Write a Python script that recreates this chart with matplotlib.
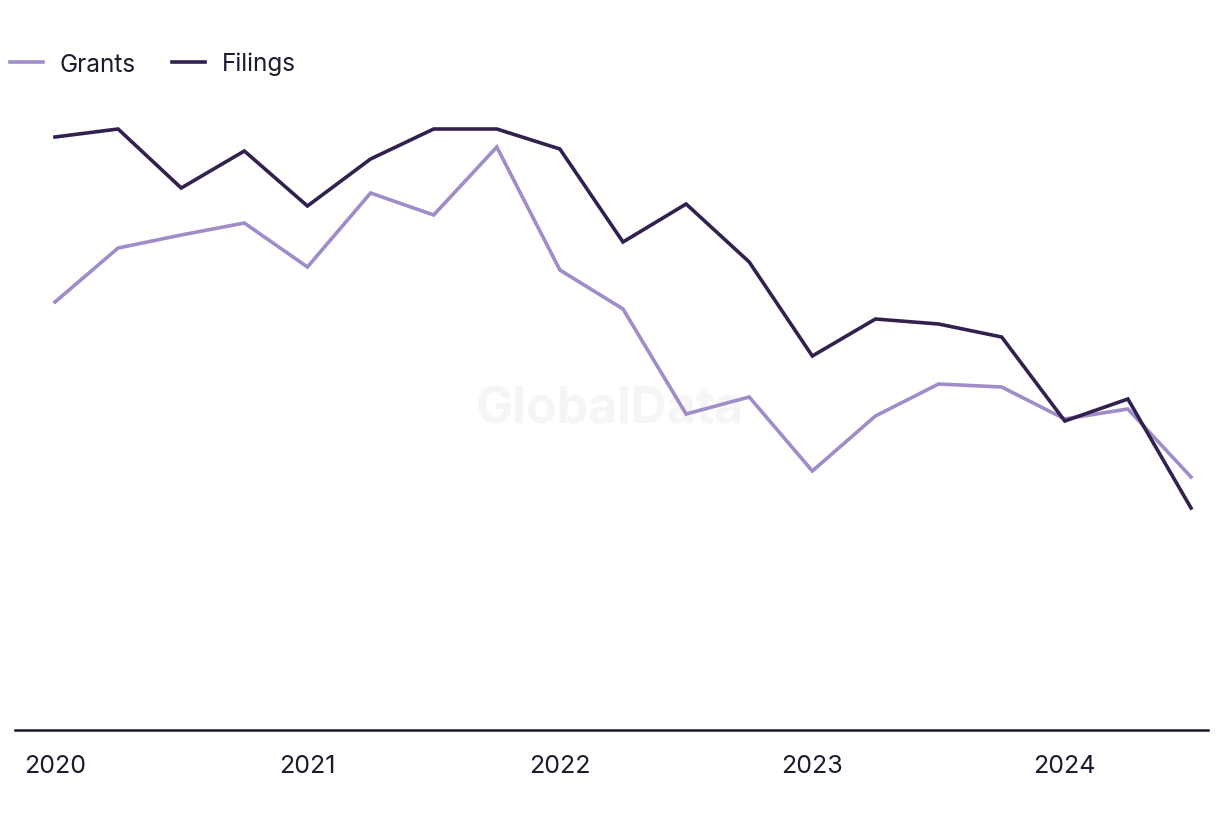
import matplotlib.pyplot as plt
import numpy as np

# quarterly values, 2020 Q1 .. 2024 Q3 (relative scale)
quarters = np.arange(19)
grants = [428, 482, 495, 507, 463, 537, 515, 583, 460, 421, 316, 333, 259, 314, 346, 343, 311, 321, 253]
filings = [593, 601, 542, 579, 524, 571, 601, 601, 581, 488, 526, 468, 374, 411, 406, 393, 309, 331, 222]
tick_pos = [0, 4, 8, 12, 16]
tick_labels = ["2020", "2021", "2022", "2023", "2024"]

plt.rcParams['font.family'] = ['Inter', 'DejaVu Sans']
text_col = "#1b1a2e"

fig = plt.figure(figsize=(12.2, 8.2), dpi=100)
ax = fig.add_axes([15 / 1220, 89 / 820, 1193 / 1220, 640 / 820])

ax.plot(quarters, grants, color="#a08cc8", lw=2.6, label="Grants", solid_joinstyle="miter")
ax.plot(quarters, filings, color="#32214f", lw=2.6, label="Filings", solid_joinstyle="miter")

step = (1191 - 55) / 18
ax.set_xlim((15 - 55) / step, (1208 - 55) / step)
ax.set_ylim(0, 640)

for s in ["top", "right", "left"]:
    ax.spines[s].set_visible(False)
ax.spines["bottom"].set_color(text_col)
ax.spines["bottom"].set_linewidth(1.8)
ax.set_yticks([])
ax.set_xticks(tick_pos)
ax.set_xticklabels(tick_labels, fontsize=18, color=text_col)
ax.tick_params(axis="x", length=0, pad=17)

ax.text(0.5, 0.5, "GlobalData", transform=fig.transFigure, ha="center", va="center",
        fontsize=36, fontweight="bold", color="#f5f5f5", zorder=0)

fig.legend(loc="upper left", bbox_to_anchor=(10 / 1220, 1 - 53 / 820), ncol=2, frameon=False,
           fontsize=17.5, labelcolor=text_col, handlelength=1.35, columnspacing=1.5,
           handletextpad=0.7, borderpad=0, borderaxespad=0)

fig.savefig("out.png", dpi=100)
